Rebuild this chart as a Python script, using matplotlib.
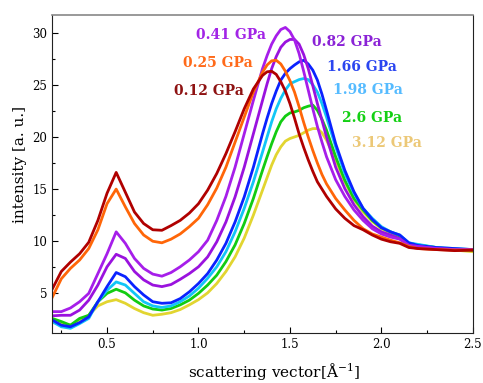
import matplotlib
matplotlib.use("Agg")
import matplotlib.pyplot as plt
from matplotlib.ticker import MultipleLocator

# scattering vector grid (finer around the main peak)
q = [0.2, 0.25, 0.3, 0.35, 0.4, 0.45, 0.5, 0.55, 0.6, 0.65, 0.7, 0.75, 0.8,
     0.85, 0.9, 0.95, 1.0, 1.05, 1.1, 1.15, 1.2, 1.25, 1.3,
     1.35, 1.375, 1.4, 1.425, 1.45, 1.475, 1.5, 1.525, 1.55, 1.575, 1.6,
     1.625, 1.65, 1.675, 1.7,
     1.75, 1.8, 1.85, 1.9, 1.95, 2.0, 2.05, 2.1, 2.15, 2.2,
     2.3, 2.4, 2.5]

# intensity curves for each pressure
i_012 = [5.4, 7.1, 8.0, 8.8, 9.9, 12.0, 14.6, 16.6, 14.7, 12.8, 11.7, 11.1, 11.05,
         11.5, 12.0, 12.7, 13.6, 14.9, 16.5, 18.4, 20.5, 22.7, 24.6,
         25.9, 26.25, 26.3, 26.0, 25.3, 24.4, 23.2, 21.8, 20.3, 19.0, 17.8,
         16.7, 15.7, 15.0, 14.3,
         13.1, 12.2, 11.5, 11.1, 10.6, 10.2, 9.95, 9.8, 9.4, 9.3,
         9.2, 9.1, 9.15]
i_025 = [4.6, 6.4, 7.4, 8.2, 9.3, 11.1, 13.6, 15.0, 13.3, 11.7, 10.6, 10.0, 9.85,
         10.2, 10.7, 11.4, 12.2, 13.5, 15.1, 17.1, 19.5, 21.9, 24.3,
         26.2, 26.9, 27.3, 27.35, 27.0, 26.3, 25.4, 24.3, 22.9, 21.4, 20.0,
         18.7, 17.5, 16.4, 15.5,
         14.1, 13.0, 12.0, 11.2, 10.7, 10.4, 10.1, 9.85, 9.5, 9.3,
         9.2, 9.15, 9.15]
i_041 = [3.25, 3.25, 3.6, 4.2, 5.0, 6.9, 8.8, 10.9, 9.8, 8.35, 7.4, 6.85, 6.65,
         7.0, 7.55, 8.2, 9.0, 10.1, 12.0, 14.3, 17.1, 20.3, 23.5,
         26.55, 27.8, 28.9, 29.7, 30.3, 30.5, 30.1, 29.3, 28.0, 26.3, 24.5,
         22.7, 21.0, 19.5, 18.1,
         15.9, 14.3, 13.0, 12.0, 11.2, 10.7, 10.4, 10.2, 9.6, 9.5,
         9.3, 9.2, 9.2]
i_082 = [2.85, 2.9, 2.9, 3.4, 4.35, 5.8, 7.55, 8.75, 8.35, 7.1, 6.3, 5.8, 5.65,
         5.85, 6.35, 6.9, 7.55, 8.5, 9.95, 11.85, 14.25, 17.1, 20.3,
         23.5, 25.1, 26.55, 27.7, 28.6, 29.1, 29.35, 29.35, 28.9, 27.9, 26.55,
         24.9, 23.2, 21.6, 20.0,
         17.1, 15.05, 13.5, 12.35, 11.45, 10.9, 10.6, 10.25, 9.6, 9.5,
         9.3, 9.2, 9.2]
i_166 = [2.45, 1.95, 1.8, 2.2, 2.75, 4.2, 5.65, 7.0, 6.6, 5.65, 4.85, 4.2, 4.05,
         4.1, 4.5, 5.15, 5.95, 6.9, 8.2, 9.8, 11.85, 14.25, 17.1,
         20.3, 21.8, 23.2, 24.4, 25.45, 26.1, 26.55, 26.9, 27.2, 27.35, 27.0,
         26.4, 25.45, 24.1, 22.55,
         19.35, 16.8, 14.75, 13.15, 12.1, 11.3, 10.9, 10.6, 9.85, 9.6,
         9.4, 9.3, 9.2]
i_198 = [2.3, 1.8, 1.65, 2.1, 2.6, 4.2, 5.3, 6.1, 5.8, 5.0, 4.2, 3.8, 3.65,
         3.8, 4.2, 4.75, 5.5, 6.45, 7.55, 9.0, 10.9, 13.15, 15.7,
         18.55, 20.0, 21.45, 22.7, 23.7, 24.5, 25.1, 25.3, 25.5, 25.6, 25.5,
         25.0, 24.3, 23.2, 21.9,
         19.05, 16.5, 14.6, 13.15, 12.2, 11.4, 10.9, 10.6, 9.85, 9.7,
         9.4, 9.3, 9.2]
i_260 = [2.6, 2.3, 1.95, 2.6, 2.9, 4.2, 5.0, 5.4, 5.05, 4.35, 3.8, 3.5, 3.4,
         3.55, 3.9, 4.35, 5.0, 5.8, 6.75, 8.05, 9.65, 11.7, 14.1,
         16.8, 18.1, 19.35, 20.5, 21.45, 22.0, 22.3, 22.4, 22.55, 22.8, 22.95,
         23.05, 22.55, 21.7, 20.65,
         18.1, 15.85, 14.1, 13.0, 12.0, 11.3, 10.9, 10.5, 9.8, 9.65,
         9.4, 9.2, 9.1]
i_312 = [2.2, 2.1, 1.95, 2.4, 2.9, 3.8, 4.2, 4.4, 4.05, 3.55, 3.15, 2.9, 3.0,
         3.15, 3.45, 3.9, 4.4, 5.05, 5.95, 7.1, 8.5, 10.3, 12.5,
         14.9, 16.1, 17.3, 18.3, 19.05, 19.6, 19.85, 20.0, 20.15, 20.4, 20.65,
         20.8, 20.8, 20.4, 19.7,
         17.8, 15.7, 14.0, 12.8, 11.9, 11.2, 10.8, 10.35, 9.65, 9.55,
         9.3, 9.15, 9.0]

labels = ['3.12 GPa', '2.6 GPa', '1.98 GPa', '1.66 GPa',
          '0.82 GPa', '0.41 GPa', '0.25 GPa', '0.12 GPa']
curves = [i_312, i_260, i_198, i_166, i_082, i_041, i_025, i_012]
line_colors = ['#E2D530', '#12CC12', '#12C6F6', '#0A22FF',
               '#9A12DE', '#A61EEA', '#FF6608', '#B00000']
text_colors = ['#ECC877', '#14D014', '#55BBFF', '#2A45F0',
               '#8A22D6', '#A224E6', '#FF6A1A', '#8E1212']
# label anchors (left edge, vertical centre) in data units
label_x = [1.838, 1.785, 1.737, 1.705, 1.622, 0.984, 0.918, 0.864]
label_y = [19.4, 21.86, 24.5, 26.7, 29.1, 29.74, 27.1, 24.4]

plt.rcParams['font.family'] = 'DejaVu Serif'

fig = plt.figure(figsize=(4.83, 3.83), dpi=100)
ax = fig.add_axes([0.108, 0.1305, 0.871, 0.8305])

for ys, c in zip(curves, line_colors):
    ax.plot(q, ys, color=c, lw=2.0)

for lab, c, x, y in zip(labels, text_colors, label_x, label_y):
    ax.text(x, y, lab, color=c, fontsize=10, fontweight='bold',
            ha='left', va='center')

ax.set_xlim(0.2, 2.5)
ax.set_ylim(1.2, 31.7)
ax.xaxis.set_major_locator(MultipleLocator(0.5))
ax.xaxis.set_minor_locator(MultipleLocator(0.25))
ax.yaxis.set_major_locator(MultipleLocator(5))
ax.yaxis.set_minor_locator(MultipleLocator(2.5))
ax.set_xticks([0.5, 1.0, 1.5, 2.0, 2.5])
ax.tick_params(which='both', direction='in', top=False, right=False,
               labelsize=8.5, width=0.8)
ax.tick_params(which='major', length=4)
ax.tick_params(which='minor', length=2.5)

for s in ['left', 'bottom', 'right']:
    ax.spines[s].set_color('#222222')
ax.spines['top'].set_color('#888888')
ax.spines['top'].set_linewidth(1.2)

ax.set_xlabel('scattering vector[Å$^{\\mathregular{-1}}$]', fontsize=11)
ax.xaxis.set_label_coords(0.527, -0.088)
ax.set_ylabel('intensity [a. u.]', fontsize=11)
ax.yaxis.set_label_coords(-0.06, 0.529)

fig.savefig('out.png', dpi=100)
